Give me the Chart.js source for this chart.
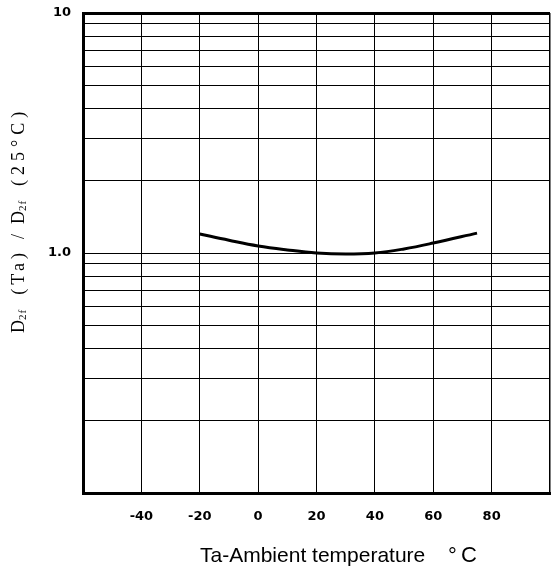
<!DOCTYPE html>
<html>
<head>
<meta charset="utf-8">
<script src="https://cdn.jsdelivr.net/npm/chart.js@4"></script>
<style>
  html, body { margin: 0; padding: 0; background: #fff; }
  #wrap { width: 551px; height: 573px; }
</style>
</head>
<body>
<div id="wrap"><canvas id="grafico" width="551" height="573"></canvas></div>
<script>
// dados
const temperaturas = [-20, -10, 0, 10, 20, 30, 40, 50, 60, 75];
const razaoD2f = [1.2, 1.13, 1.07, 1.03, 1.0, 0.99, 1.0, 1.04, 1.1, 1.21];
const ticksX = [-60, -40, -20, 0, 20, 40, 60, 80, 100];
const ticksY = [0.1, 0.2, 0.3, 0.4, 0.5, 0.6, 0.7, 0.8, 0.9, 1, 2, 3, 4, 5, 6, 7, 8, 9, 10];
const rotulosY = { 1: '1.0', 10: '10' };

const fonteTicks = { family: '"DejaVu Sans", sans-serif', size: 13, weight: 'bold' };

// títulos desenhados à mão para acertar a posição
const titulos = {
  id: 'titulos',
  afterDraw(chart) {
    const ctx = chart.ctx;
    ctx.save();
    ctx.fillStyle = '#000';
    ctx.textBaseline = 'middle';

    // título do eixo x
    ctx.font = '21px "Liberation Sans", Arial, sans-serif';
    ctx.textAlign = 'left';
    ctx.fillText('Ta-Ambient temperature', 200, 556);
    ctx.font = '22px "Liberation Sans", Arial, sans-serif';
    ctx.fillText('°', 448, 557);
    ctx.fillText('C', 461, 556);

    // título do eixo y (girado, com subscritos)
    const partes = [
      ['D', false, 0, 0], ['2f', true, 14, 1], ['(Ta)', false, 10, 4], ['/', false, 10, 0],
      ['D', false, 0, 0], ['2f', true, 14, 1], ['(25°C)', false, 0, 5]
    ];
    const grande = '18px "Liberation Serif", "DejaVu Serif", serif';
    const pequeno = '11px "Liberation Serif", "DejaVu Serif", serif';
    ctx.translate(19, 333);
    ctx.rotate(-Math.PI / 2);
    let x = 0;
    partes.forEach(([txt, sub, espaco, letras]) => {
      ctx.font = sub ? pequeno : grande;
      ctx.letterSpacing = letras + 'px';
      ctx.fillText(txt, x, sub ? 4 : 0);
      x += ctx.measureText(txt).width + espaco;
    });
    ctx.restore();
  }
};

new Chart(document.getElementById('grafico'), {
  type: 'line',
  data: {
    datasets: [{
      data: temperaturas.map((t, i) => ({ x: t, y: razaoD2f[i] })),
      borderColor: '#000',
      borderWidth: 3,
      pointRadius: 0,
      fill: false,
      tension: 0.4
    }]
  },
  options: {
    responsive: false,
    animation: false,
    layout: { padding: { top: 13, right: 1, left: 0, bottom: 0 } },
    plugins: { legend: { display: false }, tooltip: { enabled: false } },
    scales: {
      x: {
        type: 'linear',
        min: -60,
        max: 100,
        afterBuildTicks: (axis) => { axis.ticks = ticksX.map(v => ({ value: v })); },
        afterFit: (axis) => {
          axis.height = 80;
          axis.paddingLeft = 0;
          axis.paddingRight = 0;
        },
        grid: {
          color: '#000',
          lineWidth: (c) => (c.tick && c.tick.value === 100 ? 1.5 : 1),
          drawTicks: false
        },
        border: { color: '#000', width: 3 },
        ticks: {
          color: '#000',
          padding: 16,
          maxRotation: 0,
          font: fonteTicks,
          callback: (v) => (v === -60 || v === 100 ? '' : String(v))
        }
      },
      y: {
        type: 'logarithmic',
        min: 0.1,
        max: 10,
        afterBuildTicks: (axis) => { axis.ticks = ticksY.map(v => ({ value: v })); },
        afterFit: (axis) => {
          axis.width = 83;
          axis.paddingTop = 0;
          axis.paddingBottom = 0;
        },
        grid: {
          color: '#000',
          lineWidth: (c) => (c.tick && c.tick.value === 10 ? 3 : 1),
          drawTicks: false
        },
        border: { color: '#000', width: 3 },
        ticks: {
          color: '#000',
          padding: 12,
          autoSkip: false,
          font: fonteTicks,
          callback: (v) => rotulosY[v] || ''
        }
      }
    }
  },
  plugins: [titulos]
});
</script>
</body>
</html>
